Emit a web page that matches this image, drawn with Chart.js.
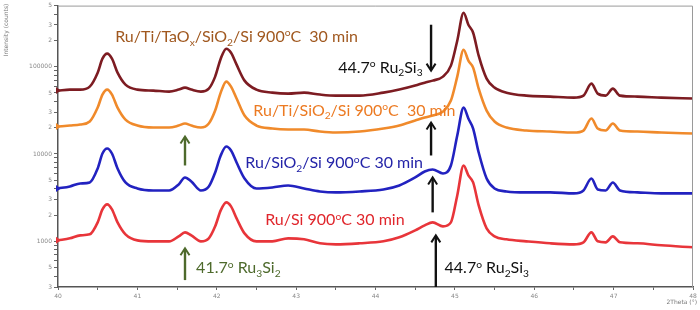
<!DOCTYPE html>
<html>
<head>
<meta charset="utf-8">
<script src="https://cdn.jsdelivr.net/npm/chart.js@4.4.1/dist/chart.umd.min.js"></script>
<style>
  html, body { margin: 0; padding: 0; background: #fff; }
  #wrap { width: 700px; height: 310px; position: relative; }
</style>
</head>
<body>
<div id="wrap"><canvas id="xrd"></canvas></div>
<script>
// 2theta positions (deg) shared by all four patterns
const twoTheta = [40.0, 40.15, 40.28, 40.4, 40.5, 40.56, 40.62, 40.68, 40.75, 40.85,
  41.0, 41.2, 41.4, 41.52, 41.6, 41.68, 41.8, 41.9, 41.98, 42.05,
  42.12, 42.18, 42.25, 42.35, 42.5, 42.7, 42.9, 43.1, 43.3, 43.5,
  43.8, 44.1, 44.3, 44.5, 44.62, 44.72, 44.85, 44.95, 45.03, 45.11,
  45.17, 45.23, 45.3, 45.4, 45.5, 45.65, 45.9, 46.2, 46.5, 46.62,
  46.72, 46.8, 46.9, 46.99, 47.08, 47.3, 47.6, 48.0];

// intensity (counts), offset patterns as plotted
const ruTiTaOx = [53200, 54600, 54600, 59100, 85400, 123400, 140800, 123400, 85400, 62300,
  54600, 53200, 51800, 54600, 57500, 54600, 51800, 56000, 76900, 123400,
  160600, 144500, 105400, 69200, 54600, 50400, 49100, 50400, 47900, 46600,
  46600, 50400, 54600, 60700, 65600, 69200, 76900, 102700, 198200, 414100,
  302000, 244700, 133600, 72900, 57500, 50400, 46600, 45400, 44200, 46600,
  63900, 49100, 46600, 56000, 46600, 45400, 44200, 43100];
const ruTiSiO2 = [20620, 21170, 21730, 23510, 33990, 47900, 54600, 47900, 33990, 24790,
  21170, 20080, 20080, 21170, 22320, 21170, 20080, 22320, 31420, 50400,
  67400, 59100, 43100, 27540, 21170, 19560, 19050, 19050, 18070, 17600,
  18070, 19560, 21170, 24150, 26120, 27540, 30600, 40900, 76900, 156400,
  117100, 97400, 56000, 31420, 23510, 20080, 18560, 18070, 17600, 18560,
  25440, 19560, 18560, 22320, 18560, 18070, 17600, 17150];
const ruSiO2 = [4033, 4251, 4601, 4724, 6829, 10130, 11560, 10130, 6829, 4724,
  4033, 3826, 3826, 4481, 5388, 4850, 3826, 4251, 6146, 9614,
  12180, 10960, 7993, 5248, 4033, 4141, 4365, 4033, 3727, 3631,
  3727, 3928, 4365, 5388, 6310, 6652, 5986, 7388, 16270, 33990,
  25440, 19560, 10400, 5248, 4033, 3727, 3631, 3631, 3536, 3826,
  5248, 3928, 3826, 4724, 3826, 3631, 3536, 3536];
const ruSi = [1026, 1082, 1171, 1202, 1649, 2321, 2647, 2321, 1649, 1202,
  1026, 1000, 1000, 1140, 1267, 1171, 1000, 1082, 1484, 2261,
  2790, 2512, 1832, 1234, 1000, 1000, 1082, 1054, 949, 924,
  949, 1000, 1111, 1335, 1524, 1649, 1484, 1649, 3354, 7388,
  5679, 4724, 2579, 1408, 1140, 1054, 1000, 949, 924, 974,
  1267, 1000, 974, 1140, 974, 949, 900, 854];

// axis ticks
const xTickLabels = [40, 41, 42, 43, 44, 45, 46, 47, 48];
const yTickValues = [300, 500, 1000, 2000, 3000, 5000, 10000, 20000, 30000, 50000, 100000, 200000, 300000, 500000];
const yTickLabels = ['3', '5', '1000', '2', '3', '5', '10000', '2', '3', '5', '100000', '2', '3', '5'];

const FONT = 'Lato';

// annotation texts: _ = subscript, ^ = superscript (next char)
const notes = [
  { text: 'Ru/Ti/TaO_x/SiO_2/Si 900^oC  30 min', x: 40.72, y: 193000, color: '#a0581f' },
  { text: '44.7^o Ru_2Si_3', x: 43.53, y: 85400, color: '#111' },
  { text: 'Ru/Ti/SiO_2/Si 900^oC  30 min', x: 42.46, y: 27540, color: '#ec7a22' },
  { text: 'Ru/SiO_2/Si 900^oC 30 min', x: 42.36, y: 6829, color: '#2424a8' },
  { text: 'Ru/Si 900^oC 30 min', x: 42.61, y: 1524, color: '#e0262c' },
  { text: '44.7^o Ru_2Si_3', x: 44.87, y: 430, color: '#111' },
  { text: '41.7^o Ru_3Si_2', x: 41.74, y: 430, color: '#4e6a2c' }
];
const arrows = [
  { x: 44.7, from: 302000, to: 90000, color: '#111' },
  { x: 44.7, from: 9614, to: 22910, color: '#111' },
  { x: 44.72, from: 2145, to: 5388, color: '#111' },
  { x: 44.76, from: 300, to: 1171, color: '#111' },
  { x: 41.6, from: 7388, to: 15850, color: '#4e6a2c' },
  { x: 41.6, from: 360, to: 832, color: '#4e6a2c' }
];

function richText(ctx, str, x, y, size, color) {
  // split into runs of normal / sub / sup
  const runs = [];
  for (let i = 0; i < str.length; i++) {
    let ch = str[i], mode = 0;
    if (ch === '_' || ch === '^') { mode = ch === '_' ? 1 : -1; ch = str[++i]; }
    const last = runs[runs.length - 1];
    if (last && last.mode === mode) last.t += ch; else runs.push({ t: ch, mode: mode });
  }
  ctx.fillStyle = color;
  ctx.textAlign = 'left';
  ctx.textBaseline = 'alphabetic';
  let cx = x;
  runs.forEach(r => {
    const s = r.mode ? size * 0.64 : size;
    ctx.font = s + 'px ' + FONT;
    const dy = r.mode === 1 ? size * 0.24 : (r.mode === -1 ? -size * 0.36 : 0);
    ctx.fillText(r.t, cx, y + dy);
    cx += ctx.measureText(r.t).width;
  });
}

function drawArrow(ctx, x, y1, y2, color) {
  const dir = y2 > y1 ? 1 : -1;
  ctx.strokeStyle = color;
  ctx.lineWidth = 2.4;
  ctx.lineCap = 'butt';
  ctx.beginPath();
  ctx.moveTo(x, y1);
  ctx.lineTo(x, y2 - dir * 1);
  ctx.stroke();
  ctx.lineWidth = 2;
  ctx.beginPath();
  ctx.moveTo(x - 4.5, y2 - dir * 7);
  ctx.lineTo(x, y2);
  ctx.lineTo(x + 4.5, y2 - dir * 7);
  ctx.stroke();
}

const extras = {
  id: 'extras',
  afterDatasetsDraw(chart) {
    const { ctx, chartArea: a, scales: { x, y } } = chart;
    ctx.save();
    // frame top/right
    ctx.strokeStyle = '#9a9a9a';
    ctx.lineWidth = 1;
    ctx.beginPath();
    ctx.moveTo(a.left, a.top + 0.5);
    ctx.lineTo(a.right - 0.5, a.top + 0.5);
    ctx.lineTo(a.right - 0.5, a.bottom);
    ctx.stroke();
    // offset markers on the y axis
    chart.data.datasets.forEach(ds => {
      const py = y.getPixelForValue(ds.data[0].y);
      ctx.fillStyle = ds.borderColor;
      ctx.beginPath();
      ctx.moveTo(a.left - 2, py - 3.5);
      ctx.lineTo(a.left + 3, py);
      ctx.lineTo(a.left - 2, py + 3.5);
      ctx.closePath();
      ctx.fill();
    });
    arrows.forEach(ar => {
      drawArrow(ctx, x.getPixelForValue(ar.x), y.getPixelForValue(ar.from), y.getPixelForValue(ar.to), ar.color);
    });
    notes.forEach(n => {
      richText(ctx, n.text, x.getPixelForValue(n.x), y.getPixelForValue(n.y), 16, n.color);
    });
    // axis titles
    ctx.fillStyle = '#777';
    ctx.font = '6px DejaVu Sans';
    ctx.textAlign = 'right';
    ctx.textBaseline = 'alphabetic';
    ctx.fillText('2Theta (°)', 697, 304);
    ctx.translate(8, 30);
    ctx.rotate(-Math.PI / 2);
    ctx.textAlign = 'center';
    ctx.fillText('Intensity (counts)', 0, 0);
    ctx.restore();
  }
};

function series(values, color) {
  return {
    data: twoTheta.map((t, i) => ({ x: t, y: values[i] })),
    borderColor: color,
    borderWidth: 2.6,
    pointRadius: 0,
    cubicInterpolationMode: 'monotone',
    fill: false
  };
}

// all minor positions 3e2..5e5 for tick marks
const yMarks = [];
for (let e = 2; e <= 5; e++) {
  for (let m = 1; m <= 9; m++) {
    const v = m * Math.pow(10, e);
    if (v >= 300 && v <= 500000) yMarks.push(v);
  }
}

new Chart(document.getElementById('xrd'), {
  type: 'line',
  data: {
    datasets: [
      series(ruTiTaOx, '#7d1c22'),
      series(ruTiSiO2, '#f08a2b'),
      series(ruSiO2, '#2222c0'),
      series(ruSi, '#e8353a')
    ]
  },
  options: {
    responsive: true,
    maintainAspectRatio: false,
    animation: false,
    layout: { padding: { top: 5, right: 7, left: 0, bottom: 0 } },
    plugins: { legend: { display: false }, tooltip: { enabled: false } },
    scales: {
      x: {
        type: 'linear',
        min: 40,
        max: 48,
        afterFit: s => { s.height = 23; },
        afterBuildTicks: s => {
          const t = [];
          xTickLabels.forEach((v, i) => {
            t.push({ value: v });
            if (i < xTickLabels.length - 1) t.push({ value: v + 0.5 });
          });
          s.ticks = t;
        },
        border: { display: true, color: '#555', width: 1.5 },
        grid: { drawOnChartArea: false, tickLength: 3, tickColor: '#666' },
        ticks: {
          autoSkip: false,
          maxRotation: 0,
          padding: 3,
          color: '#888',
          font: { size: 6, family: 'DejaVu Sans' },
          callback: v => (xTickLabels.includes(v) ? String(v) : '')
        }
      },
      y: {
        type: 'logarithmic',
        min: 300,
        max: 500000,
        afterFit: s => { s.width = 58; },
        afterBuildTicks: s => { s.ticks = yMarks.map(v => ({ value: v })); },
        border: { display: true, color: '#555', width: 1.5 },
        grid: { drawOnChartArea: false, tickLength: 4, tickColor: '#666' },
        ticks: {
          autoSkip: false,
          padding: 2,
          color: '#888',
          font: { size: 6, family: 'DejaVu Sans' },
          callback: v => {
            const k = yTickValues.indexOf(v);
            return k >= 0 ? yTickLabels[k] : '';
          }
        }
      }
    }
  },
  plugins: [extras]
});
</script>
</body>
</html>
